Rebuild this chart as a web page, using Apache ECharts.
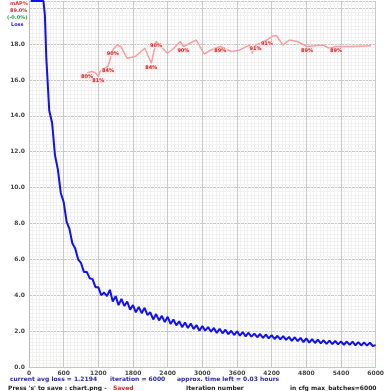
<!DOCTYPE html>
<html>
<head>
<meta charset="utf-8">
<script src="https://cdn.jsdelivr.net/npm/echarts@6/dist/echarts.min.js"></script>
<style>
  html, body { margin: 0; padding: 0; background: #fff; }
  #chart { width: 387px; height: 391px; }
</style>
</head>
<body>
<div id="chart"></div>
<script>
// loss samples (iteration, avg loss)
var lossIters = [30, 100, 150, 200, 250, 275, 300, 350, 400, 450, 500, 550, 600, 650, 700, 750, 800, 850, 900, 950,
  1000, 1050, 1100, 1150, 1200, 1250, 1300, 1350, 1400, 1450, 1500, 1550, 1600, 1650, 1700, 1750, 1800, 1850, 1900, 1950,
  2000, 2050, 2100, 2150, 2200, 2250, 2300, 2350, 2400, 2450, 2500, 2550, 2600, 2650, 2700, 2750, 2800, 2850, 2900, 2950,
  3000, 3050, 3100, 3150, 3200, 3250, 3300, 3350, 3400, 3450, 3500, 3550, 3600, 3650, 3700, 3750, 3800, 3850, 3900, 3950,
  4000, 4050, 4100, 4150, 4200, 4250, 4300, 4350, 4400, 4450, 4500, 4550, 4600, 4650, 4700, 4750, 4800, 4850, 4900, 4950,
  5000, 5050, 5100, 5150, 5200, 5250, 5300, 5350, 5400, 5450, 5500, 5550, 5600, 5650, 5700, 5750, 5800, 5850, 5900, 5950, 6000];
var lossValues = [20.4, 20.4, 20.4, 20.4, 20.4, 19.6, 17.2, 14.3, 13.6, 11.8, 11.0, 9.7, 9.2, 8.1, 7.7, 6.9, 6.6, 6.0, 5.8, 5.3,
  5.3, 4.95, 4.9, 4.45, 4.45, 4.0, 4.15, 3.95, 4.3, 3.65, 3.95, 3.45, 3.8, 3.4, 3.65, 3.2, 3.45, 3.05, 3.35, 3.0,
  3.3, 2.9, 3.05, 2.65, 2.95, 2.6, 2.85, 2.5, 2.8, 2.4, 2.65, 2.32, 2.55, 2.22, 2.48, 2.17, 2.42, 2.12, 2.33, 2.02,
  2.28, 2.02, 2.23, 1.97, 2.18, 1.9, 2.13, 1.88, 2.08, 1.83, 2.02, 1.78, 1.99, 1.75, 1.95, 1.71, 1.91, 1.69, 1.86, 1.66,
  1.84, 1.62, 1.81, 1.6, 1.78, 1.56, 1.74, 1.54, 1.72, 1.51, 1.68, 1.46, 1.66, 1.44, 1.62, 1.39, 1.6, 1.36, 1.55, 1.34,
  1.52, 1.32, 1.49, 1.29, 1.47, 1.28, 1.45, 1.26, 1.43, 1.24, 1.42, 1.23, 1.41, 1.21, 1.39, 1.2, 1.37, 1.19, 1.36, 1.17, 1.22];

// mAP checks (iteration, percent)
var mapIters = [1005, 1088, 1145, 1200, 1228, 1283, 1367, 1450, 1522, 1588, 1700, 1838, 2005, 2117, 2200,
  2283, 2395, 2505, 2617, 2672, 2783, 2895, 3033, 3145, 3312, 3505, 3645, 3812, 3867, 3922,
  4005, 4117, 4228, 4283, 4395, 4505, 4645, 4812, 5088, 5200, 5312, 5588, 5917];
var mapValues = [82.2, 82.5, 82.2, 81.1, 82.5, 83.2, 83.9, 88.5, 89.9, 89.5, 86.2, 86.7, 89.0, 84.8, 90.9,
  89.5, 87.6, 89.0, 90.9, 89.5, 90.4, 91.3, 87.4, 88.5, 89.5, 88.1, 88.5, 89.9, 87.6, 89.9,
  90.4, 91.3, 92.5, 92.5, 89.9, 91.3, 90.9, 89.5, 89.9, 89.0, 89.5, 89.5, 89.7];
var mapLabelIdx = [0, 3, 6, 7, 13, 14, 19, 24, 29, 31, 37, 40];
var mapLabelText = ["80%", "81%", "84%", "90%", "84%", "90%", "90%", "89%", "91%", "91%", "89%", "89%"];

var xTicks = [0, 600, 1200, 1800, 2400, 3000, 3600, 4200, 4800, 5400, 6000];

var lossData = lossIters.map(function (it, i) { return [it, lossValues[i]]; });
var mapData = mapIters.map(function (it, i) {
  var k = mapLabelIdx.indexOf(i);
  var item = { value: [it, mapValues[i]] };
  if (k >= 0) {
    item.label = { show: true, formatter: mapLabelText[k] };
  }
  return item;
});

var chart = echarts.init(document.getElementById("chart"));
var txt = "bold 6px DejaVu Sans";
var option = {
  backgroundColor: "#fff",
  animation: false,
  grid: { left: 29, right: 0, top: 1, bottom: 24 },
  xAxis: {
    type: "value",
    min: 0,
    max: 6000,
    interval: 600,
    axisLine: { show: true, lineStyle: { color: "#a6dca6", width: 1 } },
    axisTick: { show: false },
    axisLabel: {
      color: "#444", fontSize: 6, fontWeight: "bold", fontFamily: "DejaVu Sans", margin: 3,
      formatter: function (v) { return xTicks.indexOf(v) >= 0 ? String(v) : ""; }
    },
    splitLine: { show: true, lineStyle: { color: "#c8c8c8", width: 1 } },
    minorTick: { show: false, splitNumber: 10 },
    minorSplitLine: { show: true, lineStyle: { color: "#f1f1f1", width: 1 } }
  },
  yAxis: [
    {
      type: "value",
      min: 0,
      max: 20.4,
      interval: 2,
      axisLine: { show: true, lineStyle: { color: "#bbb" } },
      axisTick: { show: false },
      axisLabel: {
        color: "#444", fontSize: 6, fontWeight: "bold", fontFamily: "DejaVu Sans", margin: 4,
        showMaxLabel: false,
        formatter: function (v) { return v > 18 ? "" : v.toFixed(1); }
      },
      splitLine: { show: true, lineStyle: { color: "#c8c8c8", width: 1 } },
      minorTick: { show: false, splitNumber: 10 },
      minorSplitLine: { show: true, lineStyle: { color: "#f1f1f1", width: 1 } }
    },
    {
      type: "value",
      min: 0,
      max: 102.2,
      show: false,
      splitLine: { show: false }
    }
  ],
  series: [
    {
      name: "mAP%",
      type: "line",
      yAxisIndex: 1,
      data: mapData,
      showSymbol: true,
      symbol: "circle",
      symbolSize: 1,
      itemStyle: { color: "rgba(0,0,0,0)" },
      lineStyle: { color: "#f5a0a0", width: 1.5 },
      label: {
        show: false,
        position: "bottom",
        distance: 1,
        color: "#d42020",
        fontSize: 5,
        fontWeight: "bold",
        fontFamily: "DejaVu Sans",
        backgroundColor: "rgba(255,228,228,0.9)",
        padding: [0, 1]
      },
      z: 3
    },
    {
      name: "Loss",
      type: "line",
      data: lossData,
      showSymbol: false,
      symbol: "none",
      clip: true,
      lineStyle: { color: "#1010f0", width: 2 },
      z: 4
    }
  ],
  graphic: [
    { type: "text", left: 10, top: 1, style: { text: "mAP%", fill: "#e03030", font: "bold 5px DejaVu Sans" } },
    { type: "text", left: 10, top: 8, style: { text: "89.0%", fill: "#c03030", font: "bold 5px DejaVu Sans" } },
    { type: "text", left: 7, top: 15, style: { text: "(-0.0%)", fill: "#20a040", font: "bold 5px DejaVu Sans" } },
    { type: "text", left: 11, top: 22, style: { text: "Loss", fill: "#2020e0", font: "bold 5px DejaVu Sans" } },
    { type: "text", left: 10, top: 376, style: { text: "current avg loss = 1.2194", fill: "#2a2aa0", font: txt } },
    { type: "text", left: 110, top: 376, style: { text: "iteration = 6000", fill: "#2a2aa0", font: txt } },
    { type: "text", left: 177, top: 376, style: { text: "approx. time left = 0.03 hours", fill: "#2a2aa0", font: txt } },
    { type: "text", left: 8, top: 385, style: { text: "Press 's' to save : chart.png - ", fill: "#222", font: txt } },
    { type: "text", left: 113, top: 385, style: { text: "Saved", fill: "#e02020", font: txt } },
    { type: "text", left: 186, top: 385, style: { text: "Iteration number", fill: "#222", font: txt } },
    { type: "text", left: 290, top: 385, style: { text: "in cfg max_batches=6000", fill: "#222", font: txt } }
  ]
};
chart.setOption(option);
</script>
</body>
</html>
